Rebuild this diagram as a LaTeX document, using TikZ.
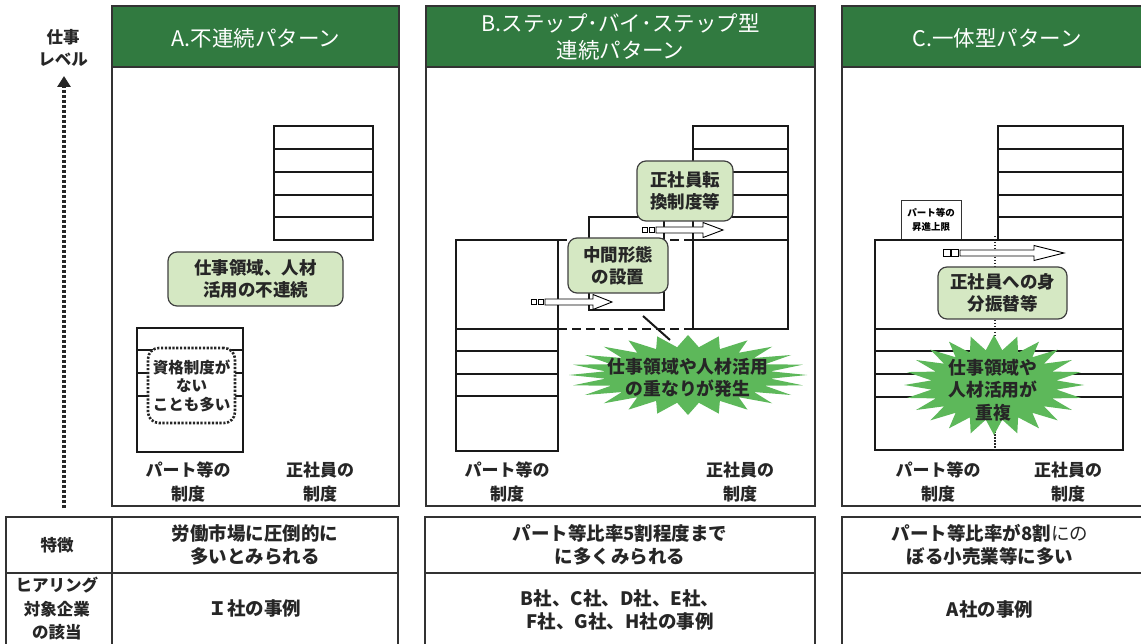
\documentclass[tikz,border=0pt]{standalone}
\usepackage{fontspec}
\setmainfont{Noto Sans CJK JP}
\usetikzlibrary{arrows.meta}
\definecolor{hdr}{HTML}{317A40}
\definecolor{bub}{HTML}{D5E8C3}
\definecolor{burstc}{HTML}{5DB85A}
\newcommand\mkburst[4]{\fill[burstc] plot[samples=49, domain=0:360, variable=\t] ({#1+#3*(1-0.3*mod(round(\t/7.5),2))*cos(\t)},{#2+#4*(1-0.3*mod(round(\t/7.5),2))*sin(\t)}) -- cycle;}
\newcommand\hollowarrow[5]{%
  \draw[line width=0.8pt, fill=white] ({#1},{#4-#5/2}) rectangle ++(#5,#5);
  \draw[line width=0.8pt, fill=white] ({#1+#5+1.5},{#4-#5/2}) rectangle ++(#5,#5);
  \draw[line width=0.9pt, fill=white] ({#1+2*#5+3},{#4-3}) -- ({#2},{#4-3}) -- ({#2},{#4-7.5}) -- ({#3},{#4}) -- ({#2},{#4+7.5}) -- ({#2},{#4+3}) -- ({#1+2*#5+3},{#4+3}) -- cycle;}
\begin{document}
\begin{tikzpicture}[x=1pt,y=-1pt,
 panel/.style={draw=black!80, line width=1.6pt},
 stk/.style={draw=black!90, line width=2.8pt},
 hdrtxt/.style={text=white, font=\fontsize{21.5}{27}\selectfont, align=center},
 bubble/.style={draw=black!75, line width=1.2pt, fill=bub, rounded corners=9pt, align=center, font=\bfseries\fontsize{17.5}{22}\selectfont, text=black!85, inner sep=0pt},
 lbl/.style={font=\bfseries\fontsize{17}{24.5}\selectfont, align=center, text=black!85},
 tbl/.style={font=\bfseries\fontsize{18.5}{22.5}\selectfont, align=center, text=black!85},
 dashln/.style={draw=black!90, line width=2.8pt, dash pattern=on 9pt off 5pt},
 bursttxt/.style={font=\bfseries\fontsize{17.8}{22.5}\selectfont, align=center, text=black!85},
]
\clip (0,0) rectangle (1141,644);
\fill[white] (0,0) rectangle (1141,644);

% axis
\node[lbl, font=\bfseries\fontsize{16.5}{22}\selectfont] (lvl) at (63,48) {仕事\\レベル};
\coordinate (axb) at (64,508);
\coordinate (axt) at (64,76);
\draw[black!85, line width=4pt, dash pattern=on 3pt off 2pt, -{Triangle[width=13pt,length=11pt]}] (axb) -- (axt);

% panels
\draw[panel] (112,6) rectangle (399,506);
\draw[panel, fill=hdr] (112,6) rectangle (399,67);
\draw[panel] (426,6) rectangle (815,506);
\draw[panel, fill=hdr] (426,6) rectangle (815,67);
\draw[panel] (842,6) rectangle (1160,506);
\draw[panel, fill=hdr] (842,6) rectangle (1160,67);
\node[hdrtxt] (tA) at (256,38) {A.不連続パターン};
\node[hdrtxt] (tB) at (620.5,37) {B.ステップ･バイ･ステップ型\\連続パターン};
\node[hdrtxt] (tC) at (997,38) {C.一体型パターン};

% ---- Panel A
\draw[stk] (274,126) rectangle (373,240);
\foreach \y in {149,172,195,217} \draw[stk] (274,\y) -- (373,\y);
\draw[stk] (137,328) rectangle (243,452);
\foreach \y in {350,373,396} \draw[stk] (137,\y) -- (243,\y);
\node[draw=black!85, fill=white, line width=2.6pt, dash pattern=on 2.2pt off 1.6pt, rounded corners=11pt, minimum width=87pt, minimum height=75pt, inner sep=0pt, align=center, font=\bfseries\fontsize{15.5}{18.5}\selectfont, text=black!85] (nq) at (191.5,385.5) {資格制度が\\ない\\ことも多い};
\node[bubble, minimum width=175pt, minimum height=54pt] (bA) at (255.5,279) {仕事領域、人材\\活用の不連続};
\node[lbl] (pA) at (188,482) {パート等の\\制度};
\node[lbl] (sA) at (320,482) {正社員の\\制度};

% ---- Panel B
\draw[stk] (693,126) rectangle (788,329);
\foreach \y in {149,172,195,217,240} \draw[stk] (693,\y) -- (788,\y);
\draw[stk] (589,217) rectangle (664,310);
\draw[stk] (664,217) -- (693,217);
\draw[stk] (456,240) rectangle (558,451);
\foreach \y in {329,351,374,396} \draw[stk] (456,\y) -- (558,\y);
\draw[dashln] (558,240) -- (693,240);
\draw[dashln] (558,329) -- (693,329);
\hollowarrow{531}{593}{612}{302}{5.5}
\hollowarrow{642}{703}{723}{230}{5.5}
\node[bubble, minimum width=96pt, minimum height=60pt] (bB1) at (685,191) {正社員転\\換制度等};
\node[bubble, minimum width=100pt, minimum height=55pt] (bB2) at (618,265.5) {中間形態\\の設置};
\mkburst{688}{375}{119}{40}
\node[bursttxt] (xB) at (688,378) {仕事領域や人材活用\\の重なりが発生};
\coordinate (d1) at (643,316);
\coordinate (d2) at (670,340);
\draw[black!90, line width=2pt] (d1) -- (d2);
\node[lbl] (pB) at (507,482) {パート等の\\制度};
\node[lbl] (sB) at (740,482) {正社員の\\制度};

% ---- Panel C
\draw[stk] (998,126) rectangle (1123,240);
\foreach \y in {149,172,195,217} \draw[stk] (998,\y) -- (1123,\y);
\node[draw=black!80, fill=white, line width=0.8pt, minimum width=60pt, minimum height=40pt, inner sep=0pt, align=center, font=\bfseries\fontsize{9.5}{14}\selectfont] (cap) at (931,220) {パート等の\\昇進上限};
\draw[stk] (875,240) rectangle (1123,450);
\foreach \y in {329,351,374,397} \draw[stk] (875,\y) -- (1123,\y);
\coordinate (v1) at (995,236);
\coordinate (v2) at (995,450);
\draw[black!85, line width=1.5pt, dash pattern=on 1.5pt off 1.5pt] (v1) -- (v2);
\hollowarrow{943}{1034}{1064}{253}{7}
\node[bubble, minimum width=129pt, minimum height=52pt] (bC) at (1002.5,293) {正社員への身\\分振替等};
\mkburst{994}{385}{90}{50}
\node[bursttxt] (xC) at (993,390) {仕事領域や\\人材活用が\\重複};
\node[lbl] (pC) at (938,482) {パート等の\\制度};
\node[lbl] (sC) at (1068,482) {正社員の\\制度};

% ---- table
\draw[panel] (6,517) rectangle (398,660);
\draw[panel] (112,517) -- (112,660);
\draw[panel] (6,573) -- (398,573);
\draw[panel] (425,517) rectangle (815,660);
\draw[panel] (425,573) -- (815,573);
\draw[panel] (842,517) rectangle (1160,660);
\draw[panel] (842,573) -- (1160,573);
\node[tbl, font=\bfseries\fontsize{16.5}{23.5}\selectfont] (r1) at (57,545) {特徴};
\node[tbl, font=\bfseries\fontsize{16.5}{23.5}\selectfont] (r2) at (57,609) {ヒアリング\\対象企業\\の該当};
\node[tbl] (a1) at (255,545) {労働市場に圧倒的に\\多いとみられる};
\node[tbl] (a2) at (255,608) {Ｉ社の事例};
\node[tbl] (b1) at (620,545) {パート等比率5割程度まで\\に多くみられる};
\node[tbl] (b2) at (620,610) {B社、C社、D社、E社、\\F社、G社、H社の事例};
\node[tbl] (c1) at (990,545) {パート等比率が8割{\mdseries にの}\\ぼる小売業等に多い};
\node[tbl] (c2) at (990,609) {A社の事例};
\end{tikzpicture}
\end{document}
